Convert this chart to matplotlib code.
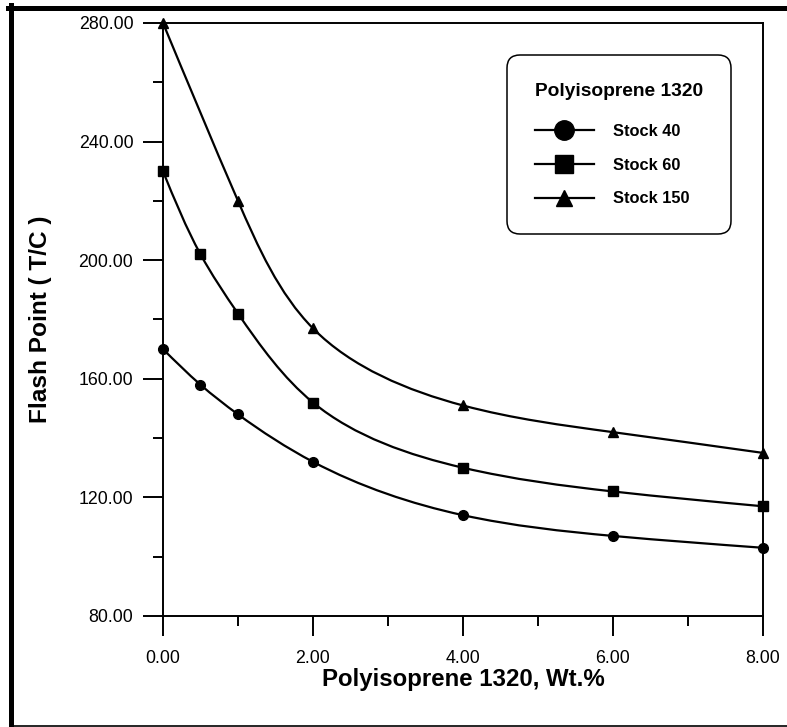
import matplotlib
matplotlib.use('Agg')
import matplotlib.pyplot as plt
from matplotlib.path import Path
from matplotlib.patches import PathPatch
from matplotlib.lines import Line2D
import numpy as np

plt.rcParams['font.family'] = ['Liberation Sans', 'DejaVu Sans']

# data
x_40 = [0, 0.5, 1, 2, 4, 6, 8]
flash_40 = [170, 158, 148, 132, 114, 107, 103]
x_60 = [0, 0.5, 1, 2, 4, 6, 8]
flash_60 = [230, 202, 182, 152, 130, 122, 117]
x_150 = [0, 1, 2, 4, 6, 8]
flash_150 = [280, 220, 177, 151, 142, 135]
labels = ['Stock 40', 'Stock 60', 'Stock 150']

x_ticks = [0, 2, 4, 6, 8]
y_ticks = [80, 120, 160, 200, 240, 280]


def spline_slopes(t, v):
    # first derivatives of a natural cubic spline v(t)
    n = len(t)
    h = np.diff(t)
    d = np.diff(v) / h
    A = np.zeros((n, n))
    b = np.zeros(n)
    A[0, 0], A[0, 1], b[0] = 2, 1, 3 * d[0]
    A[-1, -2], A[-1, -1], b[-1] = 1, 2, 3 * d[-1]
    for i in range(1, n - 1):
        A[i, i - 1] = h[i]
        A[i, i] = 2 * (h[i - 1] + h[i])
        A[i, i + 1] = h[i - 1]
        b[i] = 3 * (h[i] * d[i - 1] + h[i - 1] * d[i])
    return np.linalg.solve(A, b)


def smooth_path(xs, ys, sx=75.0, sy=2.965):
    # parametric spline, chord length measured in screen pixels
    xs = np.asarray(xs, float)
    ys = np.asarray(ys, float)
    seg = np.hypot(np.diff(xs) * sx, np.diff(ys) * sy)
    t = np.concatenate([[0], np.cumsum(seg)])
    mx = spline_slopes(t, xs)
    my = spline_slopes(t, ys)
    verts = [(xs[0], ys[0])]
    codes = [Path.MOVETO]
    for i in range(len(xs) - 1):
        dt = seg[i] / 3
        verts += [(xs[i] + mx[i] * dt, ys[i] + my[i] * dt),
                  (xs[i + 1] - mx[i + 1] * dt, ys[i + 1] - my[i + 1] * dt),
                  (xs[i + 1], ys[i + 1])]
        codes += [Path.CURVE4] * 3
    return Path(verts, codes)


fig = plt.figure(figsize=(7.87, 7.27), dpi=100)
ax = fig.add_axes([0.2071, 0.1527, 0.7624, 0.8157])

series = [(x_40, flash_40, 'o', 7), (x_60, flash_60, 's', 7.5), (x_150, flash_150, '^', 6.5)]
for xs, ys, mk, ms in series:
    ax.add_patch(PathPatch(smooth_path(xs, ys), fill=False, edgecolor='black',
                           linewidth=1.6, clip_on=False, zorder=2))
    ax.plot(xs, ys, linestyle='none', marker=mk, markersize=ms, color='black',
            clip_on=False, zorder=3)

ax.set_xlim(0, 8)
ax.set_ylim(80, 280)
ax.set_xticks(x_ticks)
ax.set_yticks(y_ticks)
ax.set_xticks([1, 3, 5, 7], minor=True)
ax.set_yticks([100, 140, 180, 220, 260], minor=True)
ax.set_xticklabels(['%.2f' % v for v in x_ticks])
ax.set_yticklabels(['%.2f' % v for v in y_ticks])
ax.tick_params(which='both', direction='out', width=1.4, labelsize=12.8, top=False, right=False)
ax.tick_params(which='major', length=14.4)
ax.tick_params(axis='y', which='major', pad=7)
ax.tick_params(axis='x', which='major', pad=10)
ax.tick_params(which='minor', length=7.2)
for sp in ax.spines.values():
    sp.set_linewidth(1.4)

ax.set_xlabel('Polyisoprene 1320, Wt.%', fontsize=17.3, fontweight='bold')
ax.set_ylabel('Flash Point ( T/C )', fontsize=17.6, fontweight='bold')
ax.xaxis.set_label_coords(0.5, -0.0877)
ax.yaxis.set_label_coords(-0.185, 0.5)

handles = [Line2D([], [], color='black', linewidth=1.6, marker='o', markersize=14),
           Line2D([], [], color='black', linewidth=1.6, marker='s', markersize=13),
           Line2D([], [], color='black', linewidth=1.6, marker='^', markersize=12)]
leg = ax.legend(handles, labels, title='Polyisoprene 1320', loc='upper left',
                bbox_to_anchor=(0.644, 0.924), bbox_transform=fig.transFigure,
                borderaxespad=0, borderpad=1.7, labelspacing=1.15, handlelength=3.6,
                handletextpad=1.2, prop={'size': 11.8, 'weight': 'bold'},
                title_fontproperties={'size': 13.8, 'weight': 'bold'},
                alignment='left', fancybox=True, framealpha=1, edgecolor='black')
leg.get_frame().set_linewidth(1.1)
leg.get_frame().set_boxstyle('round,pad=0,rounding_size=0.8')
leg._legend_box.sep = 17

# outer frame, cropped on the right
fig.add_artist(Line2D([8 / 787, 1], [1 - 7.5 / 727, 1 - 7.5 / 727], color='black', linewidth=3.6,
                      transform=fig.transFigure))
fig.add_artist(Line2D([10.5 / 787, 10.5 / 787], [0, 1 - 5 / 727], color='black', linewidth=3.6,
                      transform=fig.transFigure))
fig.add_artist(Line2D([10.5 / 787, 1], [1.5 / 727, 1.5 / 727], color='black', linewidth=1.2,
                      transform=fig.transFigure))

fig.savefig('out.png', dpi=100)
